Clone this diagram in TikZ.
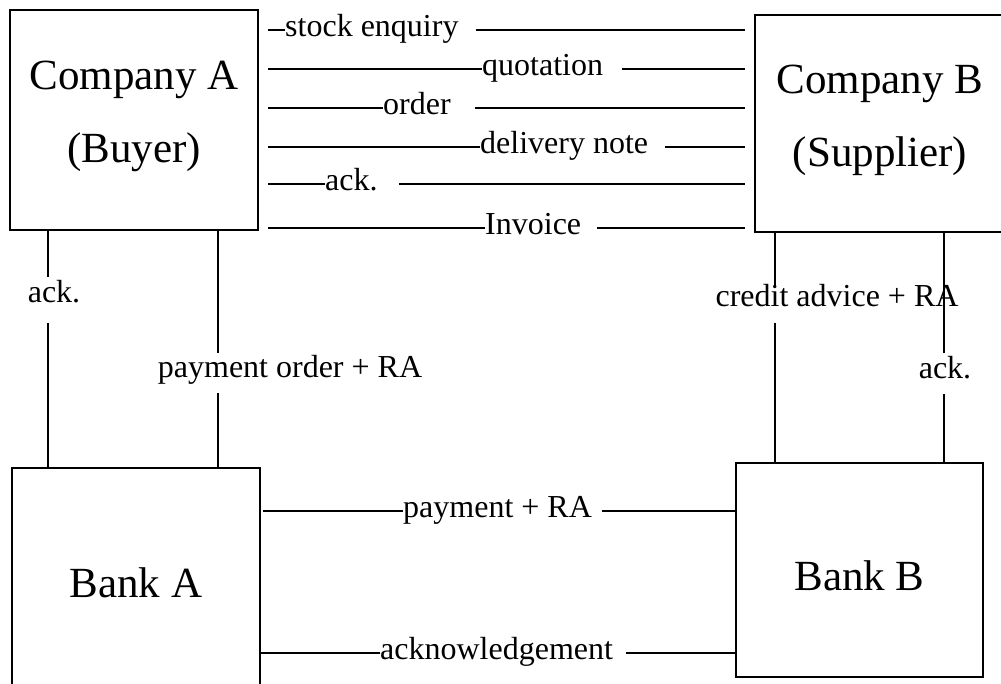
\documentclass[tikz,border=0pt]{standalone}
\usepackage{fontspec}
\setmainfont{Liberation Serif}
\begin{document}
\begin{tikzpicture}[x=1pt,y=-1pt,
  box/.style={draw, line width=1.5pt, inner sep=0pt, outer sep=0pt, align=center,
              font=\fontsize{43}{73}\selectfont},
  msg/.style={inner sep=0pt, font=\fontsize{32}{38}\selectfont},
  hmsg/.style={msg, anchor=base west},
  conn/.style={line width=1.5pt}]

% page area
\fill[white] (0,0) rectangle (1001,683);
\useasboundingbox (0,0) rectangle (1001,683);

% parties
\node[box, minimum width=248pt, minimum height=220pt, text depth=16pt] (cA) at (134,120) {Company A\\(Buyer)};
\node[box, minimum width=250pt, minimum height=217pt, text depth=16pt] (cB) at (880,123.5) {Company B\\(Supplier)};
\node[box, minimum width=248pt, minimum height=218pt, text height=41pt] (bA) at (136,577) {Bank A};
\node[box, minimum width=247pt, minimum height=214pt, text height=41pt] (bB) at (859.5,570) {Bank B};

% horizontal message labels (baseline 6pt below their line)
\node[hmsg] (m1) at (285,36) {stock enquiry};
\node[hmsg] (m2) at (482,75) {quotation};
\node[hmsg] (m3) at (383,114) {order};
\node[hmsg] (m4) at (480,153) {delivery note};
\node[hmsg] (m5) at (325,190) {ack.};
\node[hmsg] (m6) at (485,234) {Invoice};
\node[hmsg] (p1) at (403,517) {payment + RA};
\node[hmsg] (p2) at (380,659) {acknowledgement};

% line ends on either side of each label
\foreach \m in {m1,m2,m3,m4,m5,m6,p1,p2}{
  \coordinate (\m l) at ([yshift=6pt]\m.base west);
  \coordinate (\m r) at ([yshift=6pt]\m.base east);
}

% messages between the companies
\draw[conn, shorten <=10pt] (cA.east |- m1l) -- (m1l);
\draw[conn, shorten <=17pt, shorten >=10pt] (m1r) -- (cB.west |- m1r);
\draw[conn, shorten <=10pt] (cA.east |- m2l) -- (m2l);
\draw[conn, shorten <=19pt, shorten >=10pt] (m2r) -- (cB.west |- m2r);
\draw[conn, shorten <=10pt] (cA.east |- m3l) -- (m3l);
\draw[conn, shorten <=24pt, shorten >=10pt] (m3r) -- (cB.west |- m3r);
\draw[conn, shorten <=10pt] (cA.east |- m4l) -- (m4l);
\draw[conn, shorten <=17pt, shorten >=10pt] (m4r) -- (cB.west |- m4r);
\draw[conn, shorten <=10pt] (cA.east |- m5l) -- (m5l);
\draw[conn, shorten <=21pt, shorten >=10pt] (m5r) -- (cB.west |- m5r);
\draw[conn, shorten <=10pt] (cA.east |- m6l) -- (m6l);
\draw[conn, shorten <=16pt, shorten >=10pt] (m6r) -- (cB.west |- m6r);

% messages between the banks
\draw[conn, shorten <=3pt] (bA.east |- p1l) -- (p1l);
\draw[conn, shorten <=10pt] (p1r) -- (bB.west |- p1r);
\draw[conn] (bA.east |- p2l) -- (p2l);
\draw[conn, shorten <=13pt] (p2r) -- (bB.west |- p2r);

% company A <-> bank A
\coordinate (xa1) at (48,0);
\coordinate (xa2) at (218,0);
\node[msg, anchor=base] (v1) at (54,302) {ack.};
\node[msg, anchor=base] (v2) at (290,377) {payment order + RA};
\draw[conn, shorten >=3pt] (cA.south -| xa1) -- (v1.north -| xa1);
\draw[conn, shorten <=20pt] (v1.south -| xa1) -- (bA.north -| xa1);
\draw[conn, shorten >=2pt] (cA.south -| xa2) -- (v2.north -| xa2);
\draw[conn, shorten <=9pt] (v2.south -| xa2) -- (bA.north -| xa2);

% company B <-> bank B
\coordinate (xb1) at (775,0);
\coordinate (xb2) at (944,0);
\node[msg, anchor=base] (v3) at (837,306) {credit advice + RA};
\node[msg, anchor=base] (v4) at (945,378) {ack.};
\draw[conn, shorten >=-3pt] (cB.south -| xb1) -- (v3.north -| xb1);
\draw[conn, shorten <=16pt] (v3.south -| xb1) -- (bB.north -| xb1);
\draw[conn, shorten >=3pt] (cB.south -| xb2) -- (v4.north -| xb2);
\draw[conn, shorten <=15pt] (v4.south -| xb2) -- (bB.north -| xb2);
\end{tikzpicture}
\end{document}
